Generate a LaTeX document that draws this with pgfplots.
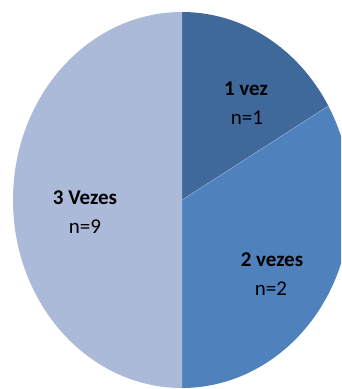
\documentclass[border=0pt]{standalone}
\usepackage{pgfplots}
\pgfplotsset{compat=1.18}
\usepackage{fontspec}
\setmainfont{Carlito}
\definecolor{sliceA}{HTML}{3F689B}
\definecolor{sliceB}{HTML}{4F81BD}
\definecolor{sliceC}{HTML}{ABBAD8}
% slice shares (as drawn in the reference): 1 vez, 2 vezes, 3 Vezes
\def\vA{1}\def\vB{2}\def\vC{3}
\begin{document}
\begin{tikzpicture}
\pgfmathsetmacro{\tot}{\vA+\vB+\vC}
\pgfmathsetmacro{\aA}{90-360*\vA/\tot}
\pgfmathsetmacro{\aB}{\aA-360*\vB/\tot}
\pgfmathsetmacro{\aC}{\aB-360*\vC/\tot}
\begin{axis}[width=341pt,height=389pt,scale only axis,
  xmin=0,xmax=341,ymin=0,ymax=389,hide axis,clip=true,
  at={(0,0)},anchor=south west]
\fill[sliceA] (axis cs:182,189) -- ++(90:169pt and 188pt)
  arc[start angle=90,end angle=\aA,x radius=169pt,y radius=188pt] -- cycle;
\fill[sliceB] (axis cs:182,189) -- ++(\aA:169pt and 188pt)
  arc[start angle=\aA,end angle=\aB,x radius=169pt,y radius=188pt] -- cycle;
\fill[sliceC] (axis cs:182,189) -- ++(\aB:169pt and 188pt)
  arc[start angle=\aB,end angle=\aC,x radius=169pt,y radius=188pt] -- cycle;
\draw[white!35!sliceB,line width=0.5pt] (axis cs:182,189) -- ++(\aA:169pt and 188pt);
\node[font=\bfseries\fontsize{21}{25}\selectfont] at (axis cs:246,300) {1 vez};
\node[font=\fontsize{21}{25}\selectfont] at (axis cs:247,271) {n=1};
\node[font=\bfseries\fontsize{21}{25}\selectfont] at (axis cs:272,129) {2 vezes};
\node[font=\fontsize{21}{25}\selectfont] at (axis cs:271,100) {n=2};
\node[font=\bfseries\fontsize{21}{25}\selectfont] at (axis cs:85,191) {3 Vezes};
\node[font=\fontsize{21}{25}\selectfont] at (axis cs:85,162) {n=9};
\end{axis}
\pgfresetboundingbox
\useasboundingbox (0,0) rectangle (341pt,389pt);
\end{tikzpicture}
\end{document}
